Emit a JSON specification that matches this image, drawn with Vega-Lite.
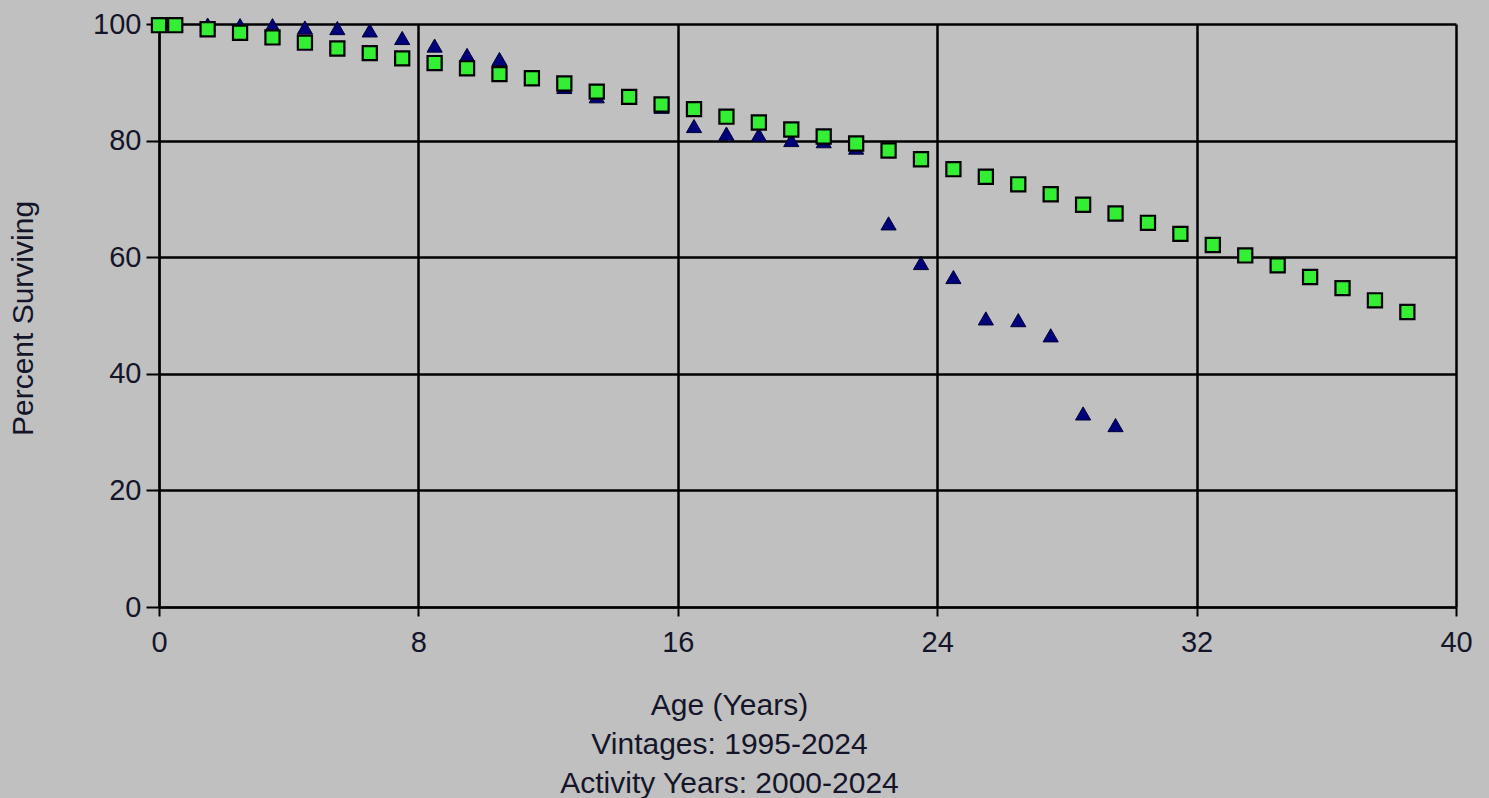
{
  "$schema": "https://vega.github.io/schema/vega-lite/v6.json",
  "width": 1297,
  "height": 583,
  "autosize": {"type": "none"},
  "padding": {"left": 159, "top": 24, "right": 33, "bottom": 191},
  "background": "#c0c0c0",
  "config": {
    "view": {"stroke": null},
    "font": "Liberation Sans",
    "axis": {
      "domainColor": "#000000",
      "domainWidth": 2,
      "gridColor": "#000000",
      "gridWidth": 2.5,
      "gridOpacity": 1,
      "tickColor": "#000000",
      "tickWidth": 2,
      "labelColor": "#15152a",
      "titleColor": "#15152a",
      "labelFont": "Liberation Sans",
      "titleFont": "Liberation Sans",
      "titleFontWeight": "normal"
    }
  },
  "data": {
    "values": [
      {"series": "Set 1", "age": 0, "pct": 100},
      {"series": "Set 1", "age": 0.5, "pct": 100},
      {"series": "Set 1", "age": 1.5, "pct": 99.9},
      {"series": "Set 1", "age": 2.5, "pct": 99.8},
      {"series": "Set 1", "age": 3.5, "pct": 99.8},
      {"series": "Set 1", "age": 4.5, "pct": 99.4},
      {"series": "Set 1", "age": 5.5, "pct": 99.3},
      {"series": "Set 1", "age": 6.5, "pct": 98.9},
      {"series": "Set 1", "age": 7.5, "pct": 97.6},
      {"series": "Set 1", "age": 8.5, "pct": 96.3},
      {"series": "Set 1", "age": 9.5, "pct": 94.7},
      {"series": "Set 1", "age": 10.5, "pct": 94.0},
      {"series": "Set 1", "age": 11.5, "pct": 90.8},
      {"series": "Set 1", "age": 12.5, "pct": 89.2},
      {"series": "Set 1", "age": 13.5, "pct": 87.6},
      {"series": "Set 1", "age": 14.5, "pct": 87.4},
      {"series": "Set 1", "age": 15.5, "pct": 85.8},
      {"series": "Set 1", "age": 16.5, "pct": 82.5},
      {"series": "Set 1", "age": 17.5, "pct": 81.2},
      {"series": "Set 1", "age": 18.5, "pct": 81.0},
      {"series": "Set 1", "age": 19.5, "pct": 80.1},
      {"series": "Set 1", "age": 20.5, "pct": 79.9},
      {"series": "Set 1", "age": 21.5, "pct": 78.8},
      {"series": "Set 1", "age": 22.5, "pct": 65.8},
      {"series": "Set 1", "age": 23.5, "pct": 59.0},
      {"series": "Set 1", "age": 24.5, "pct": 56.6},
      {"series": "Set 1", "age": 25.5, "pct": 49.5},
      {"series": "Set 1", "age": 26.5, "pct": 49.2},
      {"series": "Set 1", "age": 27.5, "pct": 46.6},
      {"series": "Set 1", "age": 28.5, "pct": 33.2},
      {"series": "Set 1", "age": 29.5, "pct": 31.2},
      {"series": "Set 2", "age": 0, "pct": 99.8},
      {"series": "Set 2", "age": 0.5, "pct": 99.8},
      {"series": "Set 2", "age": 1.5, "pct": 99.1},
      {"series": "Set 2", "age": 2.5, "pct": 98.5},
      {"series": "Set 2", "age": 3.5, "pct": 97.7},
      {"series": "Set 2", "age": 4.5, "pct": 96.8},
      {"series": "Set 2", "age": 5.5, "pct": 95.8},
      {"series": "Set 2", "age": 6.5, "pct": 95.0},
      {"series": "Set 2", "age": 7.5, "pct": 94.1},
      {"series": "Set 2", "age": 8.5, "pct": 93.3},
      {"series": "Set 2", "age": 9.5, "pct": 92.4},
      {"series": "Set 2", "age": 10.5, "pct": 91.4},
      {"series": "Set 2", "age": 11.5, "pct": 90.7},
      {"series": "Set 2", "age": 12.5, "pct": 89.8},
      {"series": "Set 2", "age": 13.5, "pct": 88.4},
      {"series": "Set 2", "age": 14.5, "pct": 87.5},
      {"series": "Set 2", "age": 15.5, "pct": 86.2},
      {"series": "Set 2", "age": 16.5, "pct": 85.4},
      {"series": "Set 2", "age": 17.5, "pct": 84.1},
      {"series": "Set 2", "age": 18.5, "pct": 83.1},
      {"series": "Set 2", "age": 19.5, "pct": 81.9},
      {"series": "Set 2", "age": 20.5, "pct": 80.7},
      {"series": "Set 2", "age": 21.5, "pct": 79.5},
      {"series": "Set 2", "age": 22.5, "pct": 78.3},
      {"series": "Set 2", "age": 23.5, "pct": 76.8},
      {"series": "Set 2", "age": 24.5, "pct": 75.1},
      {"series": "Set 2", "age": 25.5, "pct": 73.8},
      {"series": "Set 2", "age": 26.5, "pct": 72.5},
      {"series": "Set 2", "age": 27.5, "pct": 70.8},
      {"series": "Set 2", "age": 28.5, "pct": 69.0},
      {"series": "Set 2", "age": 29.5, "pct": 67.5},
      {"series": "Set 2", "age": 30.5, "pct": 65.9},
      {"series": "Set 2", "age": 31.5, "pct": 64.0},
      {"series": "Set 2", "age": 32.5, "pct": 62.1},
      {"series": "Set 2", "age": 33.5, "pct": 60.3},
      {"series": "Set 2", "age": 34.5, "pct": 58.6},
      {"series": "Set 2", "age": 35.5, "pct": 56.6},
      {"series": "Set 2", "age": 36.5, "pct": 54.7},
      {"series": "Set 2", "age": 37.5, "pct": 52.6},
      {"series": "Set 2", "age": 38.5, "pct": 50.6}
    ]
  },
  "encoding": {
    "x": {
      "field": "age",
      "type": "quantitative",
      "scale": {"domain": [0, 40], "nice": false, "zero": false},
      "axis": {
        "values": [0, 8, 16, 24, 32, 40],
        "title": ["Age (Years)", "Vintages: 1995-2024", "Activity Years: 2000-2024"],
        "labelFontSize": 29,
        "titleFontSize": 30,
        "titleLineHeight": 39,
        "tickSize": 9,
        "labelPadding": 12,
        "labelFlush": false,
        "titleX": 570,
        "titleY": 83,
        "titleAlign": "center",
        "titleBaseline": "top"
      }
    },
    "y": {
      "field": "pct",
      "type": "quantitative",
      "scale": {"domain": [0, 100], "nice": false},
      "axis": {
        "values": [0, 20, 40, 60, 80, 100],
        "title": "Percent Surviving",
        "labelFontSize": 29,
        "titleFontSize": 30,
        "tickSize": 13,
        "labelPadding": 5,
        "labelFlush": false,
        "titleAngle": -90,
        "titleX": -136,
        "titleY": 294,
        "titleAlign": "center",
        "titleBaseline": "middle"
      }
    }
  },
  "layer": [
    {
      "transform": [{"filter": "datum.series === 'Set 1'"}],
      "mark": {"type": "point", "shape": "triangle-up", "filled": true, "size": 230, "fill": "#00007a", "stroke": "#000033", "strokeWidth": 1, "opacity": 1}
    },
    {
      "transform": [{"filter": "datum.series === 'Set 2'"}],
      "mark": {"type": "point", "shape": "square", "filled": true, "size": 200, "fill": "#33ee33", "stroke": "#000000", "strokeWidth": 2.2, "opacity": 1}
    }
  ]
}
